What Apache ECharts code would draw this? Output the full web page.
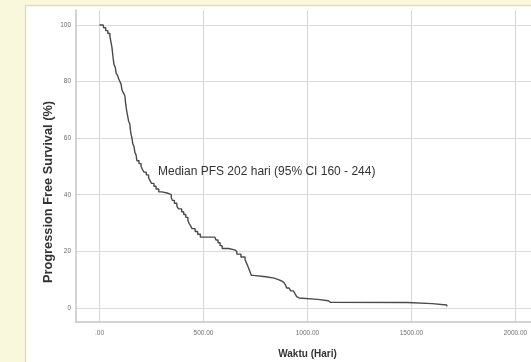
<!DOCTYPE html>
<html><head><meta charset="utf-8">
<script src="https://cdn.jsdelivr.net/npm/echarts@6/dist/echarts.min.js"></script>
<style>html,body{margin:0;padding:0;background:#faf8dc;}#c{width:531px;height:362px;}</style>
</head><body><div id="c"></div>
<script>
// Kaplan-Meier PFS curve (time in days, survival in %)
const times = [0,18,20,30,40,50,55,60,63,66,70,76,80,88,92,98,104,108,115,122,126,130,135,140,146,150,156,160,166,170,176,180,190,200,206,214,225,236,243,250,262,272,285,300,330,345,350,360,372,380,395,405,415,425,430,438,445,460,472,485,555,560,570,580,590,620,650,660,680,700,706,712,720,725,730,740,800,840,860,876,886,895,900,912,920,932,940,948,955,960,1050,1100,1110,1480,1600,1670];
const survival = [100,100,99,98,97,96,94,92,90,88,86,85,83,82,81,80,79,77,76,75,72,70,68,66,65,62,60,58,57,55,54,52,51,50,49,48,47,46,45,44,43,42,41,40.5,40,39,38,37,36,35,34,33,32,31,30,29,28,27,26,25,25,24,23,22,21,20.5,20,19,18,17,16,15,13.5,12.5,11.5,11,10.5,10,9.5,9,8.5,8,7,6.5,6,5.5,5,4,3.5,3,2.5,2,1.9,1.5,1,0.5];
const xTicks = [0,500,1000,1500,2000];
const yTicks = [0,20,40,60,80,100];
const annotation = 'Median PFS 202 hari (95% CI 160 - 244)';
const xTitle = 'Waktu (Hari)';
const yTitle = 'Progression Free Survival (%)';

const data = times.map((t,i)=>[t, survival[i]]);
const chart = echarts.init(document.getElementById('c'));
chart.setOption({
  backgroundColor: '#faf8dc',
  animation: false,
  graphic: [
    {type:'rect', z:-10, shape:{x:25.5,y:5.5,width:520,height:370}, style:{fill:'#ffffff', stroke:'#dedbc4', lineWidth:1.5}},
    {type:'text', z:10, x:158, y:172, style:{text:annotation, font:'12px "Liberation Sans", Arial, sans-serif', fill:'#333', verticalAlign:'middle'}},
    {type:'text', z:10, x:48, y:192, rotation:Math.PI/2, style:{text:yTitle, font:'bold 12.8px "Liberation Sans", Arial, sans-serif', fill:'#333', align:'center', verticalAlign:'middle'}},
    {type:'text', z:10, x:307.5, y:354, style:{text:xTitle, font:'bold 10px "Liberation Sans", Arial, sans-serif', fill:'#333', align:'center', verticalAlign:'middle'}}
  ],
  grid: {left:76, right:0, top:10, bottom:40, containLabel:false},
  xAxis: {
    type:'value', min:-113, max:2075,
    axisLine:{show:true, onZero:false, lineStyle:{color:'#c4c4c4', width:1.5}},
    axisTick:{show:false, customValues:xTicks},
    axisLabel:{customValues:xTicks, color:'#6f6f6f', fontSize:6.5, margin:8,
      formatter:v=> v===0 ? '.00' : v.toFixed(2)},
    splitLine:{show:true, lineStyle:{color:'#dadada', width:1.2}}
  },
  yAxis: {
    type:'value', min:-5, max:105.3,
    axisLine:{show:true, onZero:false, lineStyle:{color:'#c4c4c4', width:1.5}},
    axisTick:{show:false, customValues:yTicks},
    axisLabel:{customValues:yTicks, color:'#6f6f6f', fontSize:6.5, margin:5},
    splitLine:{show:true, lineStyle:{color:'#dadada', width:1.2}}
  },
  series: [{
    type:'line', step:'end', data:data, symbol:'none',
    lineStyle:{color:'#4a4a4a', width:1.4}
  }]
});
</script></body></html>
